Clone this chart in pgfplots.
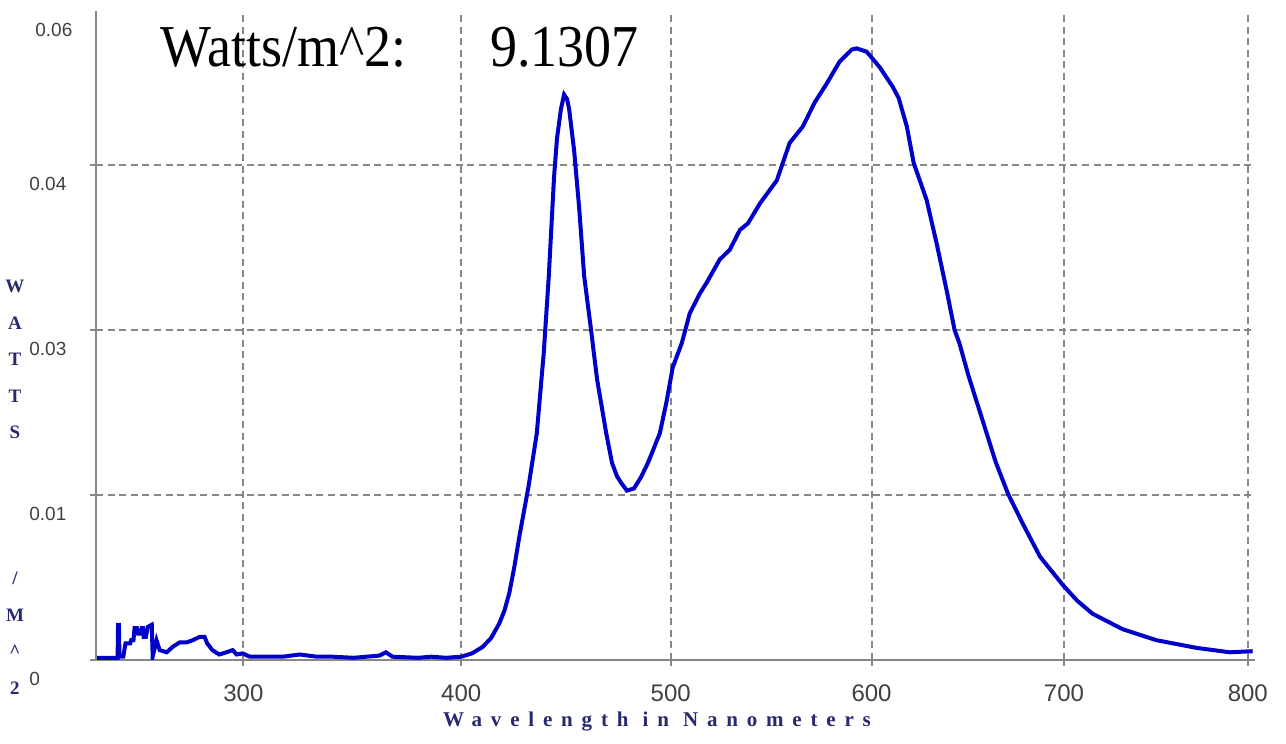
\documentclass[border=0pt]{standalone}
\usepackage{fontspec}
\usepackage{graphicx}
\usepackage{pgfplots}
\pgfplotsset{compat=1.18}
\setmainfont{Liberation Serif}
\setsansfont{Liberation Sans}
\newfontfamily\lblfont[LetterSpace=42]{Liberation Serif}
\definecolor{curve}{RGB}{0,0,200}
\definecolor{navy}{RGB}{40,40,110}
\definecolor{gridgray}{RGB}{135,135,135}

\begin{document}
\begin{tikzpicture}
\useasboundingbox (-48pt,-42pt) rectangle (595pt,330pt);
\begin{axis}[
    scale only axis,
    width=579.5pt, height=324.5pt,
    at={(0,0)}, anchor=south west,
    xmin=234.5, xmax=804,
    ymin=0, ymax=0.059,
    % the spectrometer's wavelength scale is not linear
    x coord trafo/.code={\pgfmathparse{(#1-550)/100}\let\u=\pgfmathresult
        \pgfmathparse{772.58+200.89*\u-4.256*\u*\u}},
    axis x line=bottom, axis y line=left,
    axis line style={gridgray, line width=1.2pt, -},
    xtick={300,400,500,600,700,800},
    xticklabels={300,400,500,600,700,800},
    ytick={0,0.015,0.03,0.045},
    yticklabels={0,0.01,0.03,0.04},
    scaled y ticks=false,
    extra y ticks={0.059},
    extra y tick labels={0.06},
    extra y tick style={grid=none, major tick length=0pt},
    grid=major,
    major grid style={gridgray, dash pattern=on 3.5pt off 2.3pt, line width=1pt},
    tick align=outside, major tick length=3pt,
    tick style={gridgray, line width=1pt},
    /pgf/number format/assume math mode=true,
    xticklabel style={font=\sffamily\fontsize{12}{12}\selectfont, text=black!75, inner sep=0pt, yshift=-9pt},
    yticklabel style={font=\sffamily\fontsize{9.5}{9.5}\selectfont, text=black!75, anchor=west, inner sep=0pt, xshift=-30.5pt, yshift=-9.5pt},
    xlabel={Wavelength in Nanometers},
    xlabel style={at={(axis description cs:0.484,-0.0955)}, anchor=center, font=\lblfont\bfseries\fontsize{10.5}{10.5}\selectfont, text=navy},
    ylabel={W\\A\\T\\T\\S\\~\\~\\~\\/\\M\\\textasciicircum\\2},
    ylabel style={rotate=-90, at={(axis description cs:-0.0699,0.266)}, anchor=center, align=center, font=\bfseries\fontsize{9.5}{18.25}\selectfont, text=navy},
]
\addplot[curve, line width=2pt] coordinates {
(235,0.0002) (244.0,0.0002) (244.2,0.0032) (244.6,0.0032) (244.8,0.0003)
(246.5,0.0003) (247.5,0.0015) (249.5,0.0015) (250.0,0.0018) (251.0,0.0018)
(251.5,0.0029) (252.5,0.0029) (253.0,0.0024) (254.0,0.0024) (254.6,0.0029)
(255.2,0.0029) (255.5,0.0021) (256.5,0.0021) (257.3,0.0030) (259.1,0.0032)
(259.5,0.0003) (261.2,0.0018) (262.6,0.0009) (265.7,0.0007) (268.4,0.0012)
(271.5,0.0016) (274.6,0.0016) (277.3,0.0018) (280.4,0.0021) (282.6,0.0021)
(283.8,0.0015) (286.1,0.0009) (289.2,0.0005) (292.4,0.0007) (295.2,0.0009)
(297.0,0.0005) (299.7,0.0006) (302.9,0.0003) (310.5,0.0003) (317.8,0.0003)
(325.5,0.0005) (333.2,0.0003) (340.5,0.0003) (350,0.0002) (356,0.0003)
(362,0.0004) (365,0.0007) (368,0.0003) (380,0.0002) (386,0.0003)
(393,0.0002) (400,0.0003) (405,0.0006) (410.1,0.0012) (414,0.0020)
(417.8,0.0033) (420.3,0.0045) (422.6,0.0061) (425.0,0.0085) (427.4,0.0113)
(431.7,0.0158) (435.6,0.0206) (438.9,0.0279) (441.3,0.0349) (443.8,0.0439)
(445.2,0.0474) (447.1,0.0501) (448.6,0.0514) (450.0,0.0510) (451.0,0.0501)
(453.4,0.0463) (455.8,0.0411) (458.2,0.0349) (461.5,0.0300) (464.4,0.0255)
(468.8,0.0206) (471.6,0.0179) (474.0,0.0167) (476.0,0.0161) (478.8,0.0154)
(482.2,0.0156) (485.5,0.0166) (488.9,0.0179) (494.7,0.0206) (497.9,0.0234)
(501.0,0.0266) (505.4,0.0288) (509.3,0.0315) (514.2,0.0333) (517.6,0.0343)
(524.0,0.0364) (529.0,0.0373) (534.0,0.0391) (538.0,0.0397) (543.9,0.0415)
(552.3,0.0436) (558.7,0.0470) (565.3,0.0485) (571.3,0.0507) (577.3,0.0524)
(583.8,0.0544) (590.0,0.0555) (592.4,0.0556) (597.5,0.0553) (604.1,0.0539)
(610.8,0.0521) (613.8,0.0511) (618.0,0.0485) (621.5,0.0452) (628.2,0.0418)
(630.8,0.0398) (633.3,0.0379) (638.5,0.0336) (642.6,0.0300) (645.1,0.0288)
(649.9,0.0258) (658.4,0.0211) (664.0,0.0180) (670.5,0.0151) (678.2,0.0124)
(687.3,0.0094) (699.5,0.0068) (707.0,0.0054) (715.3,0.0042) (731.4,0.0028)
(749.7,0.0018) (771.7,0.0011) (790.0,0.0007) (802.7,0.0008)
};
\node[anchor=base west, inner sep=0pt, font=\fontsize{27}{27}\selectfont] at (axis description cs:0.0552,0.915) {\scalebox{1}[1.1]{Watts/m\textasciicircum 2:}};
\node[anchor=base west, inner sep=0pt, font=\fontsize{27}{27}\selectfont] at (axis description cs:0.340,0.915) {\scalebox{1}[1.1]{9.1307}};
\end{axis}
\end{tikzpicture}
\end{document}
